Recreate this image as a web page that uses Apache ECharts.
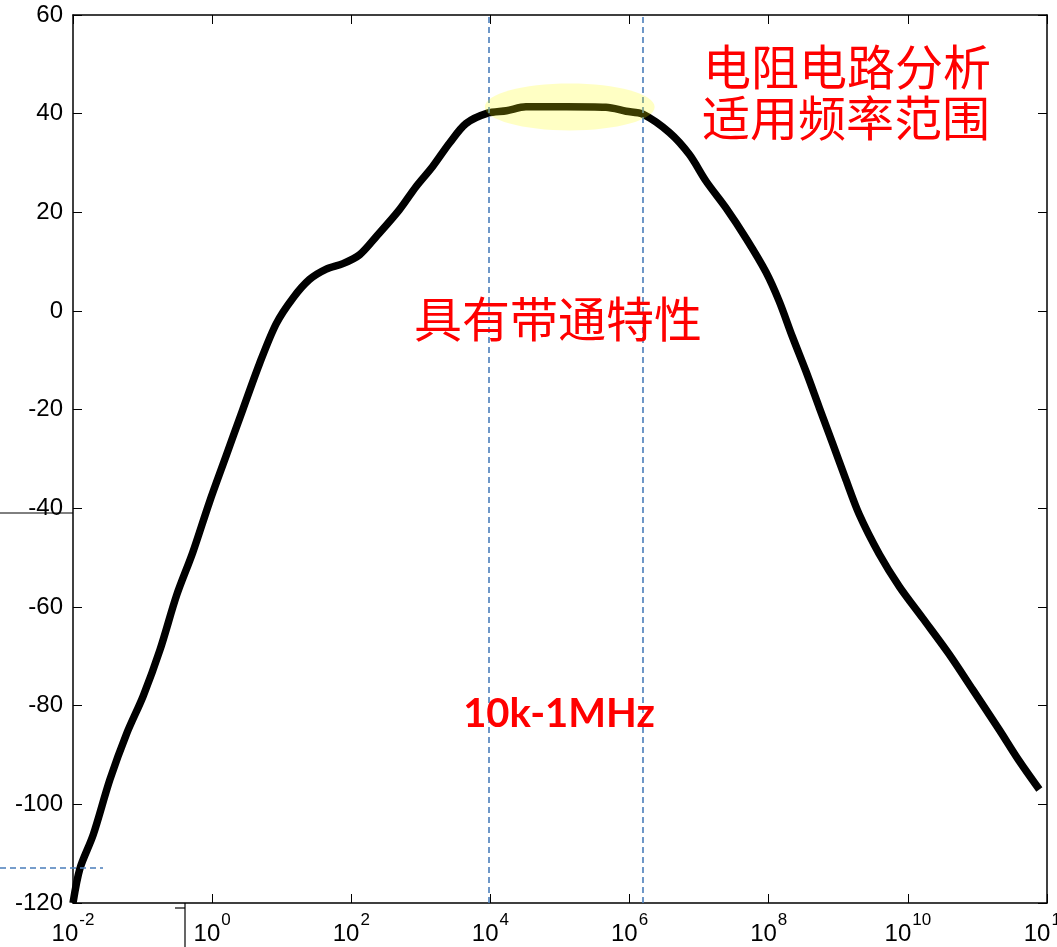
<!DOCTYPE html>
<html>
<head>
<meta charset="utf-8">
<script src="https://cdn.jsdelivr.net/npm/echarts@6/dist/echarts.min.js"></script>
<style>
html,body{margin:0;padding:0;background:#fff;overflow:hidden;}
#c{width:1057px;height:947px;}
</style>
</head>
<body>
<div id="c"></div>
<script>
// log10 of frequency (Hz)
var freqExp = [-2.0, -1.90, -1.71, -1.47, -1.23, -0.99, -0.75, -0.51, -0.28, -0.04,
  0.20, 0.44, 0.68, 0.92, 1.16, 1.40, 1.64, 1.88, 2.12, 2.36,
  2.69, 2.93, 3.17, 3.41, 3.65, 3.96, 4.23, 4.51, 5.09, 5.66,
  5.95, 6.19, 6.57, 6.86, 7.10, 7.39, 7.68, 7.96, 8.15, 8.34,
  8.54, 8.73, 8.92, 9.11, 9.30, 9.59, 9.88, 10.21, 10.59, 10.93,
  11.31, 11.60, 11.89];
// gain in dB
var gainDb = [-120, -113, -106.2, -95, -85.7, -78, -68.7, -57.6, -49, -38.8,
  -29.4, -20, -10.7, -2.6, 2.6, 6.4, 8.5, 9.6, 11.4, 15.1,
  20.5, 25.2, 29.3, 34, 38, 40.1, 40.6, 41.4, 41.4, 41.3,
  40.5, 39.9, 36.2, 31.7, 26.3, 20.8, 14.6, 7.9, 2.0, -5.2,
  -12.4, -19.7, -26.9, -34.2, -41.2, -49.3, -55.9, -62.2, -69.5, -76.7,
  -84.8, -91.2, -97];
// x tick exponents: 10^-2 ... 10^12
var xTickExp = [-2, 0, 2, 4, 6, 8, 10, 12];
// y ticks
var yTicks = [-120, -100, -80, -60, -40, -20, 0, 20, 40, 60];
// band edges (log10 Hz)
var bandEdges = [3.97, 6.19];
// highlighted flat band (log10 Hz range, dB range)
var flatX = [3.92, 6.36];
var flatY = [36.6, 46.1];

var texts = {
  title1: '电阻电路分析',
  title2: '适用频率范围',
  middle: '具有带通特性',
  band: '10k-1MHz'
};

var chart = echarts.init(document.getElementById('c'), null, {renderer: 'canvas', width: 1057, height: 947});
var data = freqExp.map(function (e, i) { return [e, gainDb[i]]; });

var axisLineStyle = {color: '#000', width: 1.5};
var font = '"Liberation Sans", Arial, sans-serif';

var option = {
  animation: false,
  backgroundColor: '#fff',
  grid: {left: 73, right: 10, top: 15, bottom: 44, containLabel: false, outerBoundsMode: 'none'},
  xAxis: [{
    type: 'value', min: xTickExp[0], max: xTickExp[xTickExp.length - 1], interval: 2,
    position: 'bottom',
    axisLine: {show: true, lineStyle: axisLineStyle, onZero: false},
    axisTick: {show: true, inside: true, length: 9, lineStyle: {color: '#000', width: 1}},
    splitLine: {show: false},
    axisLabel: {
      margin: 9,
      color: '#000',
      fontFamily: font,
      hideOverlap: false,
      formatter: function (v) { return '{b|10}{s|' + v + '}'; },
      rich: {
        b: {fontSize: 24, fontFamily: font, color: '#000', verticalAlign: 'bottom', lineHeight: 34},
        s: {fontSize: 17, fontFamily: font, color: '#000', verticalAlign: 'top', lineHeight: 34, padding: [0, 0, 0, 1]}
      }
    }
  }, {
    type: 'value', min: xTickExp[0], max: xTickExp[xTickExp.length - 1], interval: 2,
    position: 'top',
    axisLine: {show: true, lineStyle: axisLineStyle, onZero: false},
    axisTick: {show: true, inside: true, length: 9, lineStyle: {color: '#000', width: 1}},
    axisLabel: {show: false},
    splitLine: {show: false}
  }],
  yAxis: [{
    type: 'value', min: yTicks[0], max: yTicks[yTicks.length - 1], interval: 20,
    position: 'left',
    axisLine: {show: true, lineStyle: axisLineStyle, onZero: false},
    axisTick: {show: true, inside: true, length: 9, lineStyle: {color: '#000', width: 1}},
    splitLine: {show: false},
    axisLabel: {margin: 10, color: '#000', fontSize: 24, fontFamily: font}
  }, {
    type: 'value', min: yTicks[0], max: yTicks[yTicks.length - 1], interval: 20,
    position: 'right',
    axisLine: {show: true, lineStyle: axisLineStyle, onZero: false},
    axisTick: {show: true, inside: true, length: 9, lineStyle: {color: '#000', width: 1}},
    axisLabel: {show: false},
    splitLine: {show: false}
  }],
  series: [{
    type: 'line',
    data: data,
    xAxisIndex: 0, yAxisIndex: 0,
    showSymbol: false,
    smooth: 0.3,
    lineStyle: {color: '#000', width: 7.5, join: 'round'},
    z: 3,
    markLine: {
      silent: true,
      symbol: ['none', 'none'],
      label: {show: false},
      lineStyle: {color: '#4a7ebb', width: 1.6, type: [6, 4]},
      data: bandEdges.map(function (v) { return {xAxis: v}; })
    }
  }]
};
chart.setOption(option);

function px(x, y) { return chart.convertToPixel({gridIndex: 0}, [x, y]); }
var p0 = px(flatX[0], flatY[0]);
var p1 = px(flatX[1], flatY[1]);
var cx = (p0[0] + p1[0]) / 2, cy = (p0[1] + p1[1]) / 2;
var rx = Math.abs(p1[0] - p0[0]) / 2, ry = Math.abs(p1[1] - p0[1]) / 2;

var leftPx = px(-2, 0)[0];
var bottomPx = px(-2, -120)[1];
var cjk = '"Noto Sans CJK SC", sans-serif';

chart.setOption({
  graphic: [
    {type: 'ellipse', z: 100, shape: {cx: cx, cy: cy, rx: rx, ry: ry},
      style: {fill: 'rgba(255,255,0,0.23)'}},
    {type: 'text', z: 101, x: 847, y: 67,
      style: {text: texts.title1, fill: '#ff0000', font: '48px ' + cjk, align: 'center', verticalAlign: 'middle'}},
    {type: 'text', z: 101, x: 846, y: 118,
      style: {text: texts.title2, fill: '#ff0000', font: '48px ' + cjk, align: 'center', verticalAlign: 'middle'}},
    {type: 'text', z: 101, x: 558, y: 319,
      style: {text: texts.middle, fill: '#ff0000', font: '48px ' + cjk, align: 'center', verticalAlign: 'middle'}},
    {type: 'text', z: 101, x: 559, y: 714,
      style: {text: texts.band, fill: '#ff0000', font: 'bold 40px Lato, "Open Sans", sans-serif', align: 'center', verticalAlign: 'middle'}},
    // stray slide artifacts outside the plot
    {type: 'line', z: 50, shape: {x1: 0, y1: 513, x2: leftPx, y2: 513},
      style: {stroke: '#000', lineWidth: 1}},
    {type: 'line', z: 50, shape: {x1: 0, y1: 868, x2: leftPx + 30, y2: 868},
      style: {stroke: '#4a7ebb', lineWidth: 1.6, lineDash: [6, 4]}},
    {type: 'line', z: 50, shape: {x1: 185, y1: bottomPx, x2: 185, y2: 947},
      style: {stroke: '#000', lineWidth: 1.2}},
    {type: 'line', z: 50, shape: {x1: 175, y1: bottomPx + 5, x2: 185, y2: bottomPx + 5},
      style: {stroke: '#000', lineWidth: 1.2}}
  ]
});
</script>
</body>
</html>
